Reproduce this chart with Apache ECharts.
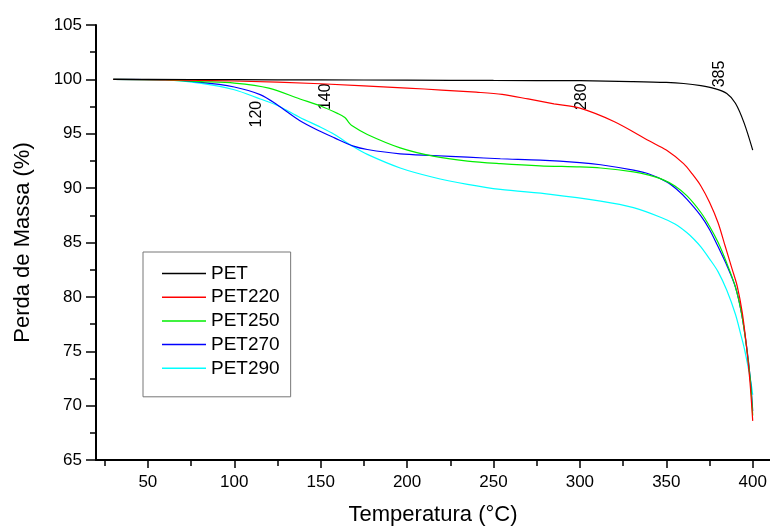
<!DOCTYPE html>
<html><head><meta charset="utf-8">
<script src="https://cdn.jsdelivr.net/npm/echarts@6/dist/echarts.min.js"></script>
<style>html,body{margin:0;padding:0;background:#fff}#c{width:770px;height:531px}</style>
</head><body><div id="c"></div>
<script>
const seriesNames = ['PET', 'PET220', 'PET250', 'PET270', 'PET290'];
const seriesColors = ['#000000', '#ff0000', '#00ee00', '#0000ff', '#00ffff'];

const petTemp = [30, 50, 100, 150, 200, 250, 300, 330, 350, 360, 370, 378, 385, 390, 395, 400];
const petMass = [100, 100, 99.97, 99.95, 99.93, 99.9, 99.88, 99.8, 99.72, 99.62, 99.42, 99.15, 98.7, 97.8, 96.0, 93.5];

const pet220Temp = [30, 60, 100, 150, 200, 220, 240, 255, 270, 285, 300, 320, 340, 350, 360, 365, 370, 375, 380, 384, 388, 391, 394, 396.5, 398.4, 400];
const pet220Mass = [100, 99.95, 99.85, 99.6, 99.2, 99.02, 98.82, 98.62, 98.2, 97.75, 97.35, 96.1, 94.35, 93.5, 92.25, 91.3, 90.2, 88.7, 86.8, 84.7, 82.6, 81.0, 78.5, 75.3, 72.2, 68.6];

const pet250Temp = [30, 60, 80, 100, 120, 138, 150, 160, 164, 166, 168, 177, 196, 215, 235, 254, 277, 300, 312, 331, 340, 347, 355, 362, 370, 375, 380, 385, 390, 393.5, 396.5, 398.7, 400];
const pet250Mass = [100, 99.95, 99.8, 99.66, 99.2, 98.2, 97.55, 96.85, 96.5, 96.1, 95.75, 94.93, 93.7, 92.94, 92.48, 92.25, 92.05, 91.95, 91.85, 91.5, 91.2, 90.85, 90.2, 89.28, 87.76, 86.5, 85.0, 83.1, 80.9, 78.5, 75.3, 72.2, 69.1];

const pet270Temp = [30, 60, 80, 100, 115, 125, 138, 150, 158, 169, 177, 196, 215, 235, 254, 277, 300, 312, 331, 340, 350, 356, 362, 370, 375, 380, 385, 390, 393.5, 396.5, 398.7, 400];
const pet270Mass = [100, 99.95, 99.75, 99.3, 98.6, 97.65, 96.2, 95.2, 94.62, 93.86, 93.55, 93.15, 93.0, 92.85, 92.7, 92.58, 92.35, 92.15, 91.65, 91.3, 90.6, 89.9, 88.97, 87.45, 86.2, 84.6, 82.9, 80.9, 78.5, 75.4, 72.3, 69.5];

const pet290Temp = [30, 60, 80, 100, 115, 125, 138, 150, 158, 169, 177, 196, 215, 235, 254, 283, 312, 331, 347, 355, 362, 366, 370, 375, 380, 385, 390, 393, 395.5, 398.8, 400];
const pet290Mass = [100, 99.95, 99.66, 99.05, 98.2, 97.6, 96.5, 95.6, 94.93, 93.8, 93.1, 91.85, 91.0, 90.35, 89.88, 89.43, 88.8, 88.2, 87.3, 86.7, 85.9, 85.3, 84.6, 83.5, 82.3, 80.6, 78.4, 76.6, 75.0, 72.3, 71.0];

const xMajorTicks = [50, 100, 150, 200, 250, 300, 350, 400];
const xMinorTicks = [25, 75, 125, 175, 225, 275, 325, 375];

const annotTemp = [113, 153, 301, 381];
const annotMass = [96.8, 98.4, 98.4, 100.5];
const annotText = ['120', '140', '280', '385'];

const temps = [petTemp, pet220Temp, pet250Temp, pet270Temp, pet290Temp];
const masses = [petMass, pet220Mass, pet250Mass, pet270Mass, pet290Mass];

const FONT = '"Liberation Sans", Arial, sans-serif';

const series = seriesNames.map((name, i) => {
  const s = {
    name: name,
    type: 'line',
    xAxisIndex: 0,
    yAxisIndex: 0,
    data: temps[i].map((t, k) => [t, masses[i][k]]),
    smooth: 0.3,
    showSymbol: false,
    symbol: 'none',
    lineStyle: { color: seriesColors[i], width: 1.2 },
    itemStyle: { color: seriesColors[i] },
    animation: false,
    z: 10 - i
  };
  if (i === 0) {
    s.markPoint = {
      symbol: 'circle',
      symbolSize: 1,
      itemStyle: { color: 'rgba(0,0,0,0)' },
      label: {
        show: true, position: 'inside', rotate: 90,
        color: '#000', fontSize: 16, fontFamily: FONT,
        formatter: p => p.name
      },
      data: annotText.map((t, k) => ({ name: t, coord: [annotTemp[k], annotMass[k]] })),
      animation: false
    };
  }
  return s;
});

const chart = echarts.init(document.getElementById('c'), null, { renderer: 'canvas' });
chart.setOption({
  animation: false,
  backgroundColor: '#fff',
  grid: { left: 96, right: 0, top: 25, bottom: 69, containLabel: false },
  legend: {
    left: 143, top: 252,
    orient: 'vertical',
    data: seriesNames,
    icon: 'rect',
    itemWidth: 44, itemHeight: 1.5,
    itemGap: 4.7,
    borderColor: '#777', borderWidth: 1,
    padding: [12, 11, 19, 19],
    backgroundColor: '#fff',
    textStyle: { color: '#000', fontSize: 19, fontFamily: FONT, lineHeight: 19 }
  },
  xAxis: [{
    type: 'value', min: 20, max: 410,
    name: 'Temperatura (°C)', nameLocation: 'middle', nameGap: 44,
    nameTextStyle: { color: '#000', fontSize: 22, fontFamily: FONT },
    axisLine: { show: true, onZero: false, lineStyle: { color: '#000', width: 2 } },
    axisTick: { show: true, customValues: xMajorTicks, length: 8, lineStyle: { color: '#000', width: 1.5 } },
    axisLabel: { show: true, customValues: xMajorTicks, margin: 14, color: '#000', fontSize: 17, fontFamily: FONT },
    splitLine: { show: false }
  }, {
    type: 'value', min: 20, max: 410, position: 'bottom', offset: 0,
    axisLine: { show: false },
    axisTick: { show: true, customValues: xMinorTicks, length: 6, lineStyle: { color: '#000', width: 1.5 } },
    axisLabel: { show: false },
    splitLine: { show: false }
  }],
  yAxis: {
    type: 'value', min: 65, max: 105, interval: 5,
    name: 'Perda de Massa (%)', nameLocation: 'middle', nameGap: 62,
    nameTextStyle: { color: '#000', fontSize: 22, fontFamily: FONT },
    axisLine: { show: true, onZero: false, lineStyle: { color: '#000', width: 2 } },
    axisTick: { show: true, length: 10, lineStyle: { color: '#000', width: 1.5 } },
    minorTick: { show: true, splitNumber: 2, length: 6, lineStyle: { color: '#000', width: 1.5 } },
    axisLabel: { margin: 14, color: '#000', fontSize: 17, fontFamily: FONT },
    splitLine: { show: false },
    minorSplitLine: { show: false }
  },
  series: series
});
</script>
</body></html>
